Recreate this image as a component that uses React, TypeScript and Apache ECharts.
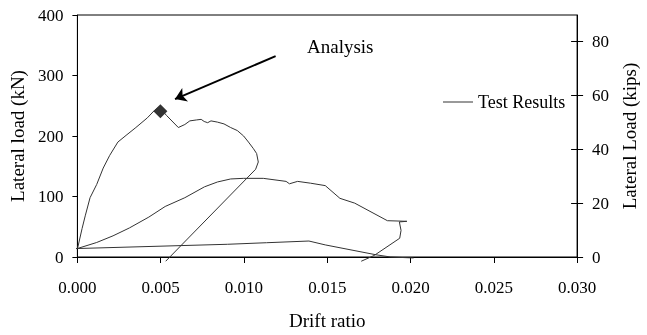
import React, { useEffect, useRef } from "react";
import * as echarts from "echarts";

// Drift ratio / lateral load (kN)
const envelopeDrift = [0, 0.00028, 0.00047, 0.00076, 0.00116, 0.00155, 0.00194, 0.00243, 0.00292, 0.00351, 0.0042, 0.00465, 0.0049, 0.00535, 0.00606, 0.00645, 0.00675, 0.00714, 0.00743, 0.00761, 0.00782, 0.00802, 0.0084, 0.0088, 0.0092, 0.0096, 0.00998, 0.01027, 0.01057, 0.01076, 0.01086, 0.0107, 0.0053];
const envelopeLoad = [13, 47, 68, 98, 120, 147, 168, 190, 201, 214, 230, 243, 248, 234, 214, 219, 225, 226.5, 227.5, 224, 222, 225, 223, 220, 214, 209, 200, 190, 179, 171, 157, 145, -7];

const cycle2Drift = [0, 0.00116, 0.00214, 0.00312, 0.00429, 0.00527, 0.00645, 0.00763, 0.00841, 0.0092, 0.00996, 0.01116, 0.01253, 0.01273, 0.01322, 0.014, 0.01488, 0.01576, 0.01665, 0.01861, 0.01978, 0.01933, 0.01943, 0.01935, 0.01782, 0.01704];
const cycle2Load = [14, 24, 35, 48, 66, 83.5, 98, 116, 124, 129, 130, 130, 125, 121, 125, 122, 118, 97, 89, 60, 59, 58, 44, 31, 2.6, -7];

const cycle3Drift = [-0.0003, 0, 0.009, 0.01135, 0.0139, 0.01488, 0.01792, 0.0188, 0.02018];
const cycle3Load = [14, 14, 21, 23.6, 26.4, 20, 3.7, 0, -1.6];

const analysisPoint = [0.00498, 241];
const arrowStart = [0.0119, 332];
const arrowEnd = [0.00586, 261];

const xTicks = { min: 0, max: 0.03, interval: 0.005 };
const kNTicks = { min: 0, max: 400, interval: 100 };
const kipsTickValues = [0, 20, 40, 60, 80];
const KN_PER_KIP = 4.448;

const FONT = "Liberation Serif";

const zip = (xs: number[], ys: number[]) => xs.map((x, i) => [x, ys[i]]);

export default function App() {
  const ref = useRef<HTMLDivElement>(null);
  useEffect(() => {
    if (!ref.current) return;
    const chart = echarts.init(ref.current, undefined, { renderer: "svg" });
    const lineStyle = { color: "#333", width: 1 };
    const testSeries = (data: number[][]) => ({
      type: "line",
      name: "Test Results",
      data,
      symbol: "none",
      showSymbol: false,
      clip: false,
      lineStyle,
      itemStyle: { color: "#333" },
      yAxisIndex: 0,
    });
    const kipsMax = kNTicks.max / KN_PER_KIP;
    chart.setOption({
      animation: false,
      textStyle: { fontFamily: FONT, color: "#000" },
      grid: {
        left: 77,
        top: 15,
        width: 510,
        height: 247,
        show: true,
        borderColor: "#000",
        borderWidth: 1,
        backgroundColor: "transparent",
      },
      legend: {
        data: [{ name: "Test Results", icon: "rect" }],
        left: 438,
        top: 88,
        itemWidth: 30,
        itemHeight: 1,
        itemGap: 5,
        textStyle: { fontFamily: FONT, fontSize: 18, color: "#000" },
      },
      xAxis: {
        type: "value",
        min: xTicks.min,
        max: xTicks.max,
        interval: xTicks.interval,
        name: "Drift ratio",
        nameLocation: "middle",
        nameGap: 54,
        nameTextStyle: { fontFamily: FONT, fontSize: 19, color: "#000" },
        axisLine: { show: true, lineStyle: { color: "#000", width: 1 } },
        axisTick: { show: true, length: 6, lineStyle: { color: "#000" } },
        axisLabel: {
          margin: 22,
          fontFamily: FONT,
          fontSize: 17,
          color: "#000",
          formatter: (v: number) => v.toFixed(3),
        },
        splitLine: { show: false },
      },
      yAxis: [
        {
          type: "value",
          min: kNTicks.min,
          max: kNTicks.max,
          interval: kNTicks.interval,
          position: "left",
          name: "Lateral load (kN)",
          nameLocation: "middle",
          nameGap: 50,
          nameTextStyle: { fontFamily: FONT, fontSize: 19, color: "#000" },
          axisLine: { show: true, lineStyle: { color: "#000", width: 1 } },
          axisTick: { show: true, length: 5, lineStyle: { color: "#000" } },
          axisLabel: { margin: 14, fontFamily: FONT, fontSize: 17, color: "#000" },
          splitLine: { show: false },
        },
        {
          type: "value",
          min: 0,
          max: kipsMax,
          position: "right",
          name: "Lateral Load (kips)",
          nameLocation: "middle",
          nameGap: 40,
          nameTextStyle: { fontFamily: FONT, fontSize: 19, color: "#000" },
          axisLine: { show: true, lineStyle: { color: "#000", width: 1 } },
          axisTick: {
            show: true,
            length: 6,
            customValues: kipsTickValues,
            lineStyle: { color: "#000" },
          },
          axisLabel: {
            margin: 15,
            fontFamily: FONT,
            fontSize: 17,
            color: "#000",
            customValues: kipsTickValues,
          },
          splitLine: { show: false },
        },
        {
          type: "value",
          min: 0,
          max: kipsMax,
          position: "right",
          axisLine: { show: false },
          axisTick: {
            show: true,
            inside: true,
            length: 6,
            customValues: kipsTickValues,
            lineStyle: { color: "#000" },
          },
          axisLabel: { show: false },
          splitLine: { show: false },
        },
      ],
      series: [
        testSeries(zip(envelopeDrift, envelopeLoad)),
        testSeries(zip(cycle2Drift, cycle2Load)),
        testSeries(zip(cycle3Drift, cycle3Load)),
        {
          type: "scatter",
          name: "Analysis",
          data: [analysisPoint],
          symbol: "diamond",
          symbolSize: 14,
          itemStyle: { color: "#000" },
          yAxisIndex: 0,
          markLine: {
            silent: true,
            symbol: ["none", "arrow"],
            symbolSize: 11,
            label: { show: false },
            lineStyle: { color: "#000", width: 2, type: "solid" },
            data: [[{ coord: arrowStart }, { coord: arrowEnd }]],
          },
        },
      ],
      graphic: [
        {
          type: "text",
          left: 307,
          top: 37,
          style: { text: "Analysis", fontFamily: FONT, fontSize: 19, fill: "#000" },
        },
      ],
    });
    return () => chart.dispose();
  }, []);
  return (
    <div
      ref={ref}
      style={{ position: "fixed", left: 0, top: 0, width: 647, height: 335 }}
    />
  );
}
